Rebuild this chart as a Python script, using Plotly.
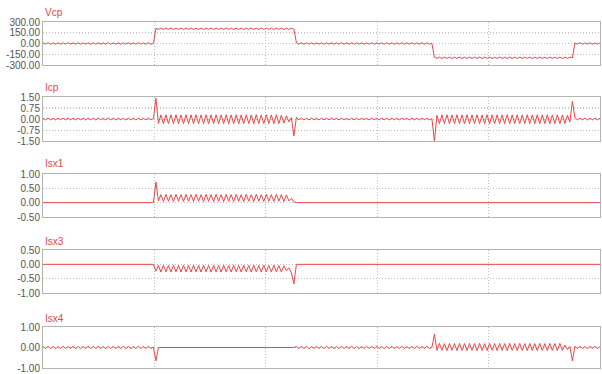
import numpy as np
import plotly.graph_objects as go
from plotly.subplots import make_subplots

# ---------------- data ----------------
t_start, t_end = 0.0, 5.0          # time span, in grid divisions
v_grid = [1, 2, 3, 4]              # vertical grid positions

titles = ["Vcp", "Icp", "Isx1", "Isx3", "Isx4"]

vcp_ticks = [300, 150, 0, -150, -300]
icp_ticks = [1.5, 0.75, 0.0, -0.75, -1.5]
isx1_ticks = [1.0, 0.5, 0.0, -0.5]
isx3_ticks = [0.5, 0.0, -0.5, -1.0]
isx4_ticks = [1.0, 0.0, -1.0]

vcp = [
    9,-9,10,-10,9,-9,10,-10,9,-9, 10,-10,9,-9,10,-10,9,-9,10,-10,
    9,-9,10,-10,9,-9,10,-10,9,-9, 10,-10,9,-9,10,-10,9,-9,10,-10,
    9,-9,10,-10,0,
    212,197,215,196,214,197,215,196,214,197, 215,196,214,197,215,196,214,197,215,196,
    214,197,215,196,214,197,215,196,214,197, 215,196,214,197,215,196,214,197,215,196,
    214,197,215,196,214,197,215,196,214,197, 215,196,214,197,212,200,
    10,-9,10,-10,9,-9,10,-10,9,-9, 10,-10,9,-9,10,-10,9,-9,10,-10,
    9,-9,10,-10,9,-9,10,-10,9,-9, 10,-10,9,-9,10,-10,9,-9,10,-10,
    9,-9,10,-10,9,-9,10,-10,9,-9, 10,-10,9,-9,0,
    -192,-208,-190,-209,-191,-208,-190,-209,-191,-208, -190,-209,-191,-208,-190,-209,-191,-208,-190,-209,
    -191,-208,-190,-209,-191,-208,-190,-209,-191,-208, -190,-209,-191,-208,-190,-209,-191,-208,-190,-209,
    -191,-208,-190,-209,-191,-208,-190,-209,-191,-208, -190,-209,-191,-208,-190,-200,
    8,-9,10,-10,9,-9,10,-10,9,-9,8,
]

icp = [
    0.05,-0.06,0.06,-0.05,0.05,-0.06,0.06,-0.05,0.05,-0.06,
    0.06,-0.05,0.05,-0.06,0.06,-0.05,0.05,-0.06,0.06,-0.05,
    0.05,-0.06,0.06,-0.05,0.05,-0.06,0.06,-0.05,0.05,-0.06,
    0.06,-0.05,0.05,-0.06,0.06,-0.05,0.05,-0.06,0.06,-0.05,
    0.05,-0.06,0.06,-0.05,0.02,
    1.42,-0.30,
    0.28,-0.32,0.29,-0.31,0.28,-0.32,0.29,-0.31,0.28,-0.32,
    0.29,-0.31,0.28,-0.32,0.29,-0.31,0.28,-0.32,0.29,-0.31,
    0.28,-0.32,0.29,-0.31,0.28,-0.32,0.29,-0.31,0.28,-0.32,
    0.29,-0.31,0.28,-0.32,0.29,-0.31,0.28,-0.32,0.29,-0.31,
    0.28,-0.32,0.29,-0.31,0.28,-0.32,0.29,-0.31,0.26,-0.28,
    0.22,-0.20,0.10,-1.15,
    0.12,
    -0.06,0.06,-0.05,0.05,-0.06,0.06,-0.05,0.05,-0.06,0.06,
    -0.05,0.05,-0.06,0.06,-0.05,0.05,-0.06,0.06,-0.05,0.05,
    -0.06,0.06,-0.05,0.05,-0.06,0.06,-0.05,0.05,-0.06,0.06,
    -0.05,0.05,-0.06,0.06,-0.05,0.05,-0.06,0.06,-0.05,0.05,
    -0.06,0.06,-0.05,0.05,-0.06,0.06,-0.05,0.05,-0.06,0.06,
    -0.05,0.05,-0.06,0.02,
    -1.48,0.25,
    -0.32,0.28,-0.31,0.29,-0.32,0.28,-0.31,0.29,-0.32,0.28,
    -0.31,0.29,-0.32,0.28,-0.31,0.29,-0.32,0.28,-0.31,0.29,
    -0.32,0.28,-0.31,0.29,-0.32,0.28,-0.31,0.29,-0.32,0.28,
    -0.31,0.29,-0.32,0.28,-0.31,0.29,-0.32,0.28,-0.31,0.29,
    -0.32,0.28,-0.31,0.29,-0.32,0.28,-0.31,0.29,-0.32,0.28,
    -0.31,0.26,-0.20,1.20,
    0.08,-0.06,0.06,-0.05,0.06,-0.06,0.05,-0.06,0.06,-0.05,0.05,
]

isx1 = [
    0,0,0,0,0,0,0,0,0,0, 0,0,0,0,0,0,0,0,0,0,
    0,0,0,0,0,0,0,0,0,0, 0,0,0,0,0,0,0,0,0,0,
    0,0,0,0,0,
    0.72,0.06,
    0.28,0.04,0.29,0.05,0.28,0.04,0.29,0.05,0.28,0.04,
    0.29,0.05,0.28,0.04,0.29,0.05,0.28,0.04,0.29,0.05,
    0.28,0.04,0.29,0.05,0.28,0.04,0.29,0.05,0.28,0.04,
    0.29,0.05,0.28,0.04,0.29,0.05,0.28,0.04,0.29,0.05,
    0.28,0.04,0.29,0.05,0.28,0.04,0.29,0.05,0.28,0.04,
    0.27,0.06,0.15,0.03,
    0,0,0,0,0,0,0,0,0,0, 0,0,0,0,0,0,0,0,0,0,
    0,0,0,0,0,0,0,0,0,0, 0,0,0,0,0,0,0,0,0,0,
    0,0,0,0,0,0,0,0,0,0, 0,0,0,0,0,
    0,0,0,0,0,0,0,0,0,0, 0,0,0,0,0,0,0,0,0,0,
    0,0,0,0,0,0,0,0,0,0, 0,0,0,0,0,0,0,0,0,0,
    0,0,0,0,0,0,0,0,0,0, 0,0,0,0,0,0,
    0,0,0,0,0,0,0,0,0,0,0,
]

isx3 = [
    0,0,0,0,0,0,0,0,0,0, 0,0,0,0,0,0,0,0,0,0,
    0,0,0,0,0,0,0,0,0,0, 0,0,0,0,0,0,0,0,0,0,
    0,0,0,0,0,
    -0.24,
    -0.04,-0.27,-0.03,-0.26,-0.04,-0.27,-0.03,-0.26,-0.04,-0.27,
    -0.03,-0.26,-0.04,-0.27,-0.03,-0.26,-0.04,-0.27,-0.03,-0.26,
    -0.04,-0.27,-0.03,-0.26,-0.04,-0.27,-0.03,-0.26,-0.04,-0.27,
    -0.03,-0.26,-0.04,-0.27,-0.03,-0.26,-0.04,-0.27,-0.03,-0.26,
    -0.04,-0.27,-0.03,-0.26,-0.04,-0.27,-0.03,-0.26,-0.04,-0.27,
    -0.05,-0.22,-0.12,
    -0.30,-0.68,
    0,0,0,0,0,0,0,0,0,0, 0,0,0,0,0,0,0,0,0,0,
    0,0,0,0,0,0,0,0,0,0, 0,0,0,0,0,0,0,0,0,0,
    0,0,0,0,0,0,0,0,0,0, 0,0,0,0,0,
    0,0,0,0,0,0,0,0,0,0, 0,0,0,0,0,0,0,0,0,0,
    0,0,0,0,0,0,0,0,0,0, 0,0,0,0,0,0,0,0,0,0,
    0,0,0,0,0,0,0,0,0,0, 0,0,0,0,0,0,
    0,0,0,0,0,0,0,0,0,0,0,
]

isx4 = [
    0.05,-0.05,0.06,-0.05,0.05,-0.06,0.05,-0.05,0.06,-0.05,
    0.05,-0.05,0.06,-0.05,0.05,-0.06,0.05,-0.05,0.06,-0.05,
    0.05,-0.05,0.06,-0.05,0.05,-0.06,0.05,-0.05,0.06,-0.05,
    0.05,-0.05,0.06,-0.05,0.05,-0.06,0.05,-0.05,0.06,-0.05,
    0.05,-0.05,0.06,-0.05,0.02,
    -0.65,
    0,0,0,0,0,0,0,0,0,0, 0,0,0,0,0,0,0,0,0,0,
    0,0,0,0,0,0,0,0,0,0, 0,0,0,0,0,0,0,0,0,0,
    0,0,0,0,0,0,0,0,0,0, 0,0,0,0,0,
    0.05,-0.05,0.06,-0.05,0.05,-0.06,0.05,-0.05,0.06,-0.05,
    0.05,-0.05,0.06,-0.05,0.05,-0.06,0.05,-0.05,0.06,-0.05,
    0.05,-0.05,0.06,-0.05,0.05,-0.06,0.05,-0.05,0.06,-0.05,
    0.05,-0.05,0.06,-0.05,0.05,-0.06,0.05,-0.05,0.06,-0.05,
    0.05,-0.05,0.06,-0.05,0.05,-0.06,0.05,-0.05,0.06,-0.05,
    0.05,-0.05,0.06,-0.05,0.0,
    0.65,-0.14,
    0.20,-0.14,0.19,-0.15,0.20,-0.14,0.19,-0.15,0.20,-0.14,
    0.19,-0.15,0.20,-0.14,0.19,-0.15,0.20,-0.14,0.19,-0.15,
    0.20,-0.14,0.19,-0.15,0.20,-0.14,0.19,-0.15,0.20,-0.14,
    0.19,-0.15,0.20,-0.14,0.19,-0.15,0.20,-0.14,0.19,-0.15,
    0.20,-0.14,0.19,-0.15,0.20,-0.14,0.19,-0.15,0.20,-0.14,
    0.12,-0.10,0.05,
    -0.65,
    0.06,-0.05,0.06,-0.05,0.05,-0.06,0.05,-0.05,0.06,-0.05,0.05,
]

series = [vcp, icp, isx1, isx3, isx4]
tick_sets = [vcp_ticks, icp_ticks, isx1_ticks, isx3_ticks, isx4_ticks]
highlight = {0: 150, 1: 0.75}       # reddish dotted grid lines

# ---------------- layout geometry ----------------
W, H = 602, 374
panel_px = [(22, 65), (97, 141), (174, 217), (250, 293), (327, 368)]
title_px = [12, 87, 163, 241, 318]

LINE = "#e8474a"
DOT = "1px,2px"
fig = make_subplots(rows=5, cols=1)

for i, (vals, ticks) in enumerate(zip(series, tick_sets)):
    r = i + 1
    t = np.linspace(t_start, t_end, len(vals))
    fig.add_trace(go.Scatter(x=t, y=vals, mode="lines",
                             line=dict(color=LINE, width=1),
                             hoverinfo="skip", showlegend=False), row=r, col=1)
    top, bot = panel_px[i]
    dom = [1 - bot / H, 1 - top / H]
    fig.update_yaxes(row=r, col=1, domain=dom, automargin=False,
                     range=[min(ticks), max(ticks)],
                     tickvals=ticks, ticktext=[f"{v:.2f}" for v in ticks],
                     ticklabeloverflow="allow",
                     showgrid=True, gridcolor="#bdbdbd", griddash=DOT, gridwidth=1,
                     zeroline=False, showline=True, linecolor="#b4b4b4",
                     linewidth=1, mirror=True, ticks="",
                     tickfont=dict(family="Liberation Sans, Arial", size=10, color="#555555"))
    fig.update_xaxes(row=r, col=1, range=[t_start, t_end], automargin=False,
                     tickvals=v_grid, showticklabels=False,
                     showgrid=True, gridcolor="#bdbdbd", griddash=DOT, gridwidth=1,
                     zeroline=False, showline=True, linecolor="#b4b4b4",
                     linewidth=1, mirror=True, ticks="")
    if i in highlight:
        xa = "x" if r == 1 else f"x{r}"
        ya = "y" if r == 1 else f"y{r}"
        fig.add_shape(type="line", xref=f"{xa} domain", yref=ya,
                      x0=0, x1=1, y0=highlight[i], y1=highlight[i],
                      line=dict(color="#ef8080", width=1, dash=DOT), layer="below")
    fig.add_annotation(text=titles[i], xref="paper", yref="paper",
                       x=0.0, y=1 - title_px[i] / H, xanchor="left", yanchor="middle",
                       showarrow=False,
                       font=dict(family="Liberation Sans, Arial", size=10, color="#e04848"))

fig.update_layout(width=W, height=H, margin=dict(l=43, r=2, t=0, b=0, autoexpand=False),
                  paper_bgcolor="white", plot_bgcolor="white")

fig.write_html("out.html", config={"displayModeBar": False},
               post_script="document.body.style.margin='0';document.body.style.overflow='hidden';")
